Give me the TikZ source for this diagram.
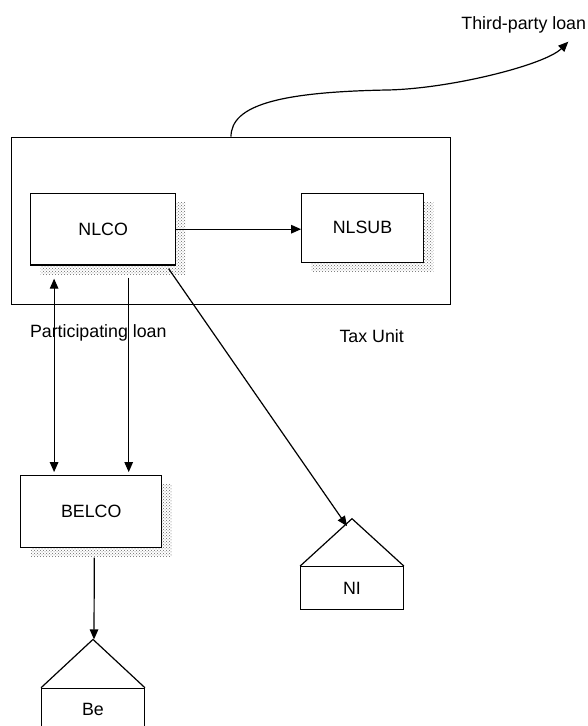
\documentclass[tikz,border=0pt]{standalone}
\usepackage{fontspec}
\setmainfont{Liberation Sans}
\usetikzlibrary{arrows.meta,positioning,calc,shadows,patterns}
\tikzset{
  box/.style={draw=black,fill=white,line width=1.2pt,inner sep=0pt,align=center,font=\fontsize{17.8}{20}\selectfont},
  shbox/.style={box,general shadow={shadow xshift=10pt,shadow yshift=-9pt,pattern=crosshatch dots,pattern color=black!60}},
  house/.style={box,minimum width=102.6pt,minimum height=42.4pt},
  roof/.style={line width=1.2pt,line join=miter},
  lbl/.style={inner sep=0pt,font=\fontsize{17.8}{20}\selectfont},
  arrow/.style={-{Triangle[length=10pt,width=8.5pt]},line width=1.2pt},
  dblarrow/.style={{Triangle[length=10pt,width=8.5pt]}-{Triangle[length=10pt,width=8.5pt]},line width=1.2pt},
}
\begin{document}
\begin{tikzpicture}[x=1pt,y=-1pt]
  \useasboundingbox (0,0) rectangle (587,726);
  % tax unit and its members
  \node[box,fill=none,minimum width=439.4pt,minimum height=167pt] (tax) at (231,220.8) {};
  \node[shbox,minimum width=145pt,minimum height=71.7pt] (nlco) at (103.2,229.2) {NLCO};
  \node[shbox,minimum width=121.6pt,minimum height=69pt] (nlsub) at (362.5,227.8) {NLSUB};
  \node[shbox,minimum width=141pt,minimum height=72pt] (belco) at (91.2,511.7) {BELCO};
  % permanent establishments
  \node[house] (ni) at (352,587.9) {NI};
  \node[house] (be) at (93,709.5) {Be};
  \coordinate[above=47.4pt of ni.north] (niroof);
  \coordinate[above=48.3pt of be.north] (beroof);
  \draw[roof] (ni.north west) -- (niroof) -- (ni.north east);
  \draw[roof] (be.north west) -- (beroof) -- (be.north east);
  % labels
  \node[lbl] (tpl) at (523.7,25) {Third-party loan};
  \node[lbl] (plbl) at (98.3,333) {Participating loan};
  \node[lbl] (tlbl) at (371.7,335.7) {Tax Unit};
  \coordinate (tplend) at (568.3,41.7);
  % connectors
  \draw[arrow] (nlco.east) -- (nlco.east -| nlsub.west);
  \draw[dblarrow] ([xshift=24pt,yshift=-13pt]nlco.south west) -- ([xshift=34pt,yshift=3pt]belco.north west);
  \draw[arrow] ([xshift=98.6pt,yshift=-12pt]nlco.south west) -- ([xshift=108.6pt,yshift=3pt]belco.north west);
  \draw[arrow] ([xshift=-7.7pt,yshift=-3pt]nlco.south east) -- ([xshift=-5pt,yshift=-7.4pt]niroof);
  \draw[arrow] ([xshift=3.1pt,yshift=-9.3pt]belco.south) -- ([xshift=1pt]beroof);
  \draw[arrow] (tax.north) .. controls (231,105) and (280,92) .. (387,90)
    .. controls (450,88.8) and (545,65) .. (tplend);
\end{tikzpicture}
\end{document}
